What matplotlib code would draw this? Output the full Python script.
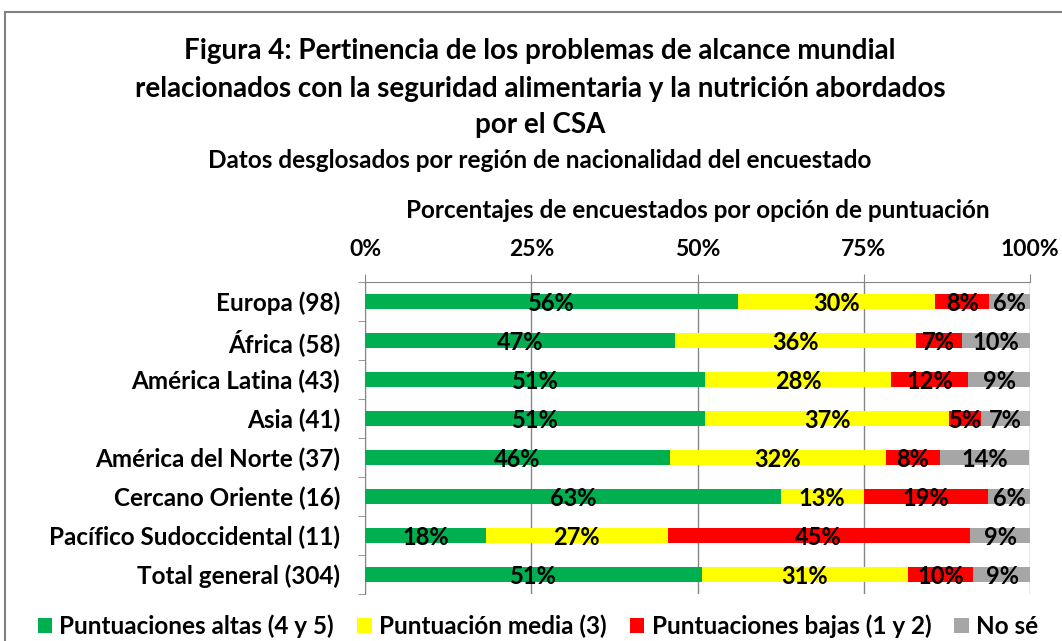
import matplotlib
matplotlib.use("Agg")
import matplotlib.pyplot as plt
from matplotlib.patches import Rectangle
import numpy as np

plt.rcParams["font.family"] = ["Lato", "DejaVu Sans"]
plt.rcParams["font.weight"] = "bold"

# data (percent of respondents per rating option)
regions = [
    "Europa (98)",
    "África (58)",
    "América Latina (43)",
    "Asia (41)",
    "América del Norte (37)",
    "Cercano Oriente (16)",
    "Pacífico Sudoccidental (11)",
    "Total general (304)",
]
altas = [56.1, 46.6, 51.2, 51.2, 45.9, 62.5, 18.2, 50.7]
media = [29.6, 36.2, 27.9, 36.6, 32.4, 12.5, 27.3, 30.9]
bajas = [8.2, 6.9, 11.6, 4.9, 8.1, 18.75, 45.45, 9.9]
no_se = [6.1, 10.3, 9.3, 7.3, 13.5, 6.25, 9.1, 8.6]

series_names = [
    "Puntuaciones altas (4 y 5)",
    "Puntuación media (3)",
    "Puntuaciones bajas (1 y 2)",
    "No sé",
]
series_colors = ["#00B050", "#FFFF00", "#FF0000", "#A6A6A6"]
x_ticks = [0, 25, 50, 75, 100]

fig = plt.figure(figsize=(10.62, 6.41), dpi=100)
W, H = 1062, 641

# outer chart frame (runs off the right and bottom edges)
fig.patches.append(Rectangle((5 / W, -0.05), 1.1, 1 - 12 / H + 0.05,
                             transform=fig.transFigure, fill=False,
                             edgecolor="#808080", linewidth=1.5))

ax = fig.add_axes([365 / W, 1 - 594 / H, 665 / W, 312 / H])

y = np.arange(len(regions))
left = np.zeros(len(regions))
for vals, name, col in zip([altas, media, bajas, no_se], series_names, series_colors):
    vals = np.array(vals)
    ax.barh(y, vals, left=left, height=0.39, color=col, label=name, zorder=3)
    for yi, (l, v) in enumerate(zip(left, vals)):
        # round half up like the spreadsheet does
        ax.text(l + v / 2, yi + 0.06, f"{int(np.floor(v + 0.5))}%", ha="center", va="center",
                fontsize=17, fontweight="bold", color="black", zorder=4)
    left += vals

ax.set_xlim(0, 100)
ax.set_ylim(len(regions) - 0.5, -0.5)
ax.xaxis.tick_top()
ax.xaxis.set_label_position("top")
ax.set_xticks(x_ticks)
ax.set_xticklabels([f"{t}%" for t in x_ticks], fontsize=16.5, fontweight="bold")
ax.set_xlabel("Porcentajes de encuestados por opción de puntuación",
              fontsize=17.5, fontweight="bold", labelpad=15)
ax.tick_params(axis="x", direction="out", length=6, color="#868686", pad=10)

ax.set_yticks(y)
ax.set_yticklabels(regions, fontsize=17.5, fontweight="bold")
ax.set_yticks(np.arange(-0.5, len(regions)), minor=True)
ax.tick_params(axis="y", which="major", length=0, pad=18)
ax.tick_params(axis="y", which="minor", length=5, color="#868686")

ax.grid(axis="x", color="#868686", linewidth=1, zorder=0)
for s in ["right", "bottom"]:
    ax.spines[s].set_visible(False)
for s in ["top", "left"]:
    ax.spines[s].set_color("#868686")

fig.text(540 / W, 1 - 51 / H, "Figura 4: Pertinencia de los problemas de alcance mundial",
         ha="center", va="center", fontsize=20, fontweight="bold")
fig.text(540 / W, 1 - 89 / H, "relacionados con la seguridad alimentaria y la nutrición abordados",
         ha="center", va="center", fontsize=20, fontweight="bold")
fig.text(540 / W, 1 - 125 / H, "por el CSA",
         ha="center", va="center", fontsize=20, fontweight="bold")
fig.text(540 / W, 1 - 161 / H, "Datos desglosados por región de nacionalidad del encuestado",
         ha="center", va="center", fontsize=17.5, fontweight="bold")

fig.legend(loc="center", bbox_to_anchor=(538 / W, 1 - 626 / H), ncol=4, frameon=False,
           handlelength=0.6, handleheight=0.6, handletextpad=0.3,
           columnspacing=0.95, borderpad=0, borderaxespad=0,
           prop={"weight": "bold", "size": 17.5})

fig.savefig("out.png", dpi=100)
